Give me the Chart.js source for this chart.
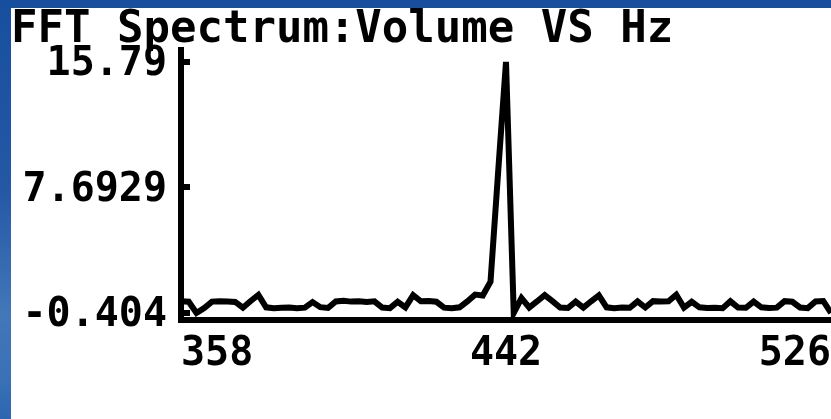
<!DOCTYPE html>
<html>
<head>
<meta charset="utf-8">
<script src="https://cdn.jsdelivr.net/npm/chart.js@4/dist/chart.umd.min.js"></script>
<style>
    html, body {
        margin: 0;
        width: 831px;
        height: 419px;
        overflow: hidden;
        background: linear-gradient(to bottom, #174f9e 0%, #2458a5 45%, #4277b8 75%, #3a72b6 90%, #2c66b0 100%);
    }
    #lcd {
        position: absolute;
        left: 11px;
        top: 8px;
        width: 820px;
        height: 411px;
        background: #fff;
    }
</style>
</head>
<body>
<div id="lcd"><canvas id="fftChart" width="820" height="411"></canvas></div>
<script>
// frequency bins (Hz) and magnitude
var freqs = [358, 360, 362, 364, 366, 368, 370, 372, 374, 376, 378, 380, 382, 384, 386, 388, 390,
    392, 394, 396, 398, 400, 402, 404, 406, 408, 410, 412, 414, 416, 418, 420, 422, 424, 426,
    428, 430, 432, 434, 436, 438, 440, 442, 444, 446, 448, 450, 452, 454, 456, 458, 460, 462,
    464, 466, 468, 470, 472, 474, 476, 478, 480, 482, 484, 486, 488, 490, 492, 494, 496, 498,
    500, 502, 504, 506, 508, 510, 512, 514, 516, 518, 520, 522, 524, 526];
var volume = [0.35, 0.32, -0.404, -0.08, 0.33, 0.36, 0.34, 0.31, -0.06, 0.37, 0.76, -0.04, -0.09,
    -0.07, -0.05, -0.1, -0.06, 0.3, -0.03, -0.08, 0.34, 0.38, 0.33, 0.36, 0.31, 0.35, -0.05,
    -0.09, 0.32, -0.04, 0.74, 0.35, 0.37, 0.32, -0.06, -0.1, -0.04, 0.34, 0.78, 0.72, 1.62,
    8.8, 15.79, -0.404, 0.55, -0.05, 0.34, 0.75, 0.36, -0.05, -0.08, 0.33, -0.06, 0.35, 0.73,
    -0.04, -0.09, -0.05, -0.07, 0.34, -0.05, 0.36, 0.33, 0.35, 0.77, -0.06, 0.32, -0.04, -0.08,
    -0.06, -0.1, 0.35, -0.05, -0.07, 0.33, -0.04, -0.08, -0.06, 0.36, 0.32, -0.05, -0.09, 0.34,
    0.37, -0.404];

var xTicks = [358, 442, 526];
var yTicks = [-0.404, 7.6929, 15.79];
var yTickLabels = ["-0.404", "7.6929", "15.79"];

var lcdFont = "'DejaVu Sans Mono', 'Liberation Mono', monospace";

var points = [];
for (var i = 0; i < freqs.length; i++) {
    points.push({ x: freqs[i], y: volume[i] });
}

// little tick marks pointing into the plot, like on the calculator screen
var innerTicks = {
    id: "innerTicks",
    afterDraw: function(chart) {
        var ctx = chart.ctx;
        var ys = chart.scales.y;
        ctx.save();
        ctx.fillStyle = "#000";
        yTicks.forEach(function(v) {
            var py = Math.round(ys.getPixelForValue(v));
            ctx.fillRect(chart.chartArea.left + 3, py - 3, 6, 6);
        });
        ctx.restore();
    }
};

new Chart(document.getElementById("fftChart"), {
    type: "line",
    data: {
        datasets: [{
            label: "Volume",
            data: points,
            borderColor: "#000",
            borderWidth: 6,
            pointRadius: 0,
            tension: 0,
            fill: false
        }]
    },
    options: {
        responsive: false,
        animation: false,
        layout: { padding: 0 },
        plugins: {
            legend: { display: false },
            tooltip: { enabled: false },
            title: {
                display: true,
                text: "FFT Spectrum:Volume VS Hz",
                align: "start",
                color: "#000",
                font: { family: lcdFont, size: 44, weight: "bold", lineHeight: 0.75 },
                padding: { top: 6, bottom: 3 }
            }
        },
        scales: {
            x: {
                type: "linear",
                min: 358,
                max: 526,
                afterBuildTicks: function(scale) {
                    scale.ticks = xTicks.map(function(v) { return { value: v }; });
                },
                afterFit: function(scale) {
                    scale.height = 99;
                    scale.paddingLeft = 0;
                    scale.paddingRight = 0;
                },
                grid: { display: false },
                border: { display: true, color: "#000", width: 6 },
                ticks: {
                    align: "inner",
                    autoSkip: false,
                    maxRotation: 0,
                    padding: 3,
                    color: "#000",
                    font: { family: lcdFont, size: 40, weight: "bold" }
                }
            },
            y: {
                min: -0.856,
                max: 16.56,
                afterBuildTicks: function(scale) {
                    scale.ticks = yTicks.map(function(v) { return { value: v }; });
                },
                afterFit: function(scale) {
                    scale.width = 170;
                    scale.paddingTop = 0;
                    scale.paddingBottom = 0;
                },
                grid: { display: false },
                border: { display: true, color: "#000", width: 6 },
                ticks: {
                    padding: 6,
                    labelOffset: 3,
                    color: "#000",
                    font: { family: lcdFont, size: 40, weight: "bold" },
                    callback: function(value, index) { return yTickLabels[index]; }
                }
            }
        }
    },
    plugins: [innerTicks]
});
</script>
</body>
</html>
